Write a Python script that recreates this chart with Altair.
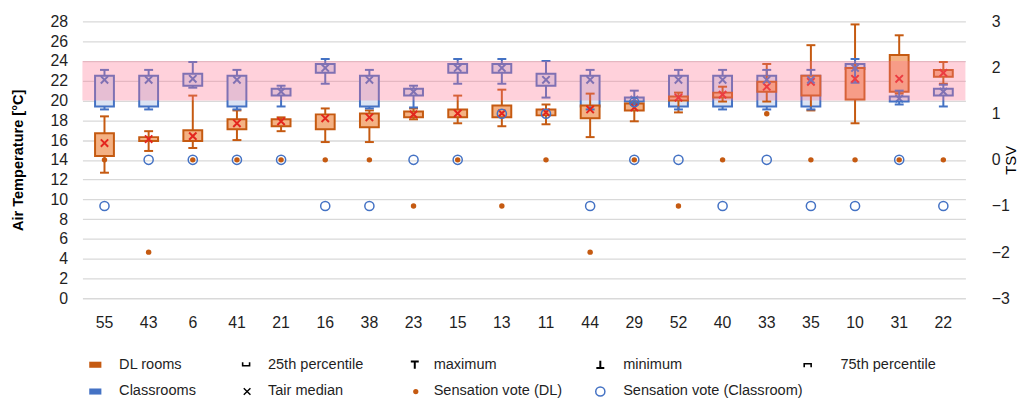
import altair as alt
import pandas as pd

# ---------------- data ----------------
rooms = ["55", "43", "6", "41", "21", "16", "38", "23", "15", "13",
         "11", "44", "29", "52", "40", "33", "35", "10", "31", "22"]

# DL rooms: air temperature box statistics [°C]
dl_min = [12.7, 14.9, 15.2, 16.0, 16.9, 15.8, 15.8, 18.1, 17.7, 17.4,
          17.6, 16.3, 17.9, 18.8, 19.9, 19.9, 19.0, 17.7, 20.7, 21.7]
dl_q1 = [14.4, 15.9, 15.9, 17.1, 17.4, 17.1, 17.3, 18.3, 18.3, 18.3,
         18.5, 18.2, 19.0, 20.0, 20.3, 20.9, 20.5, 20.1, 20.9, 22.4]
dl_q3 = [16.7, 16.3, 17.0, 18.1, 18.1, 18.6, 18.7, 18.9, 19.1, 19.5,
         19.1, 19.5, 19.7, 20.4, 20.8, 21.9, 22.5, 23.3, 24.6, 23.1]
dl_max = [18.4, 16.9, 20.5, 19.0, 18.3, 19.2, 19.0, 19.2, 20.5, 21.1,
          19.6, 20.7, 19.9, 20.8, 21.4, 23.7, 25.6, 27.7, 26.6, 23.9]
dl_median = [15.7, 16.1, 16.4, 17.7, 17.9, 18.2, 18.3, 18.6, 18.7, 18.7,
             18.8, 19.1, 19.3, 20.3, 20.6, 21.4, 21.9, 22.2, 22.2, 22.8]

# Classrooms: air temperature box statistics [°C]
cl_min = [19.1, 19.1, 21.3, 19.1, 19.4, 21.7, 19.2, 19.3, 21.7, 21.7,
          20.3, 19.1, 19.6, 19.1, 19.1, 19.1, 19.1, 21.8, 19.6, 19.4]
cl_q1 = [19.4, 19.4, 21.5, 19.4, 20.5, 22.8, 19.4, 20.5, 22.8, 22.8,
         21.5, 19.4, 19.9, 19.4, 19.4, 19.4, 19.4, 23.2, 19.9, 20.5]
cl_q3 = [22.5, 22.5, 22.7, 22.5, 21.2, 23.7, 22.5, 21.2, 23.7, 23.7,
         22.7, 22.5, 20.3, 22.5, 22.5, 22.5, 22.5, 23.7, 20.4, 21.2]
cl_max = [23.1, 23.1, 23.9, 23.1, 21.5, 24.2, 23.1, 21.5, 24.2, 24.2,
          24.0, 23.1, 21.0, 23.1, 23.1, 23.1, 23.1, 24.2, 21.0, 21.6]
cl_median = [22.1, 22.1, 22.2, 22.1, 20.9, 23.3, 22.1, 20.9, 23.3, 23.3,
             22.1, 22.1, 20.1, 22.1, 22.1, 22.1, 22.1, 23.3, 20.2, 20.9]

# Thermal sensation votes (TSV)
dl_vote_rooms = rooms
dl_votes = [0, -2, 0, 0, 0, 0, 0, -1, 0, -1,
            0, -2, 0, -1, 0, 1, 0, 0, 0, 0]
cl_vote_rooms = rooms + ["29"]
cl_votes = [-1, 0, 0, 0, 0, -1, -1, 0, 0, 1,
            1, -1, 0, 0, -1, 0, -1, -1, 0, -1, 1.25]

comfort_band = [20, 24]

# ---------------- styling ----------------
ORANGE = "#c55a11"
ORANGE_FILL = "#f4b183"
BLUE = "#4472c4"
BLUE_FILL = "#dae3f3"
RED = "#e3261e"
PINK = "#ff6f8f"
FONT = "Liberation Sans"
TXT = "#1f1f1f"
W, H = 890, 279
X_PATH = "M-1,-1L1,1M-1,1L1,-1"

dl = pd.DataFrame({"room": rooms, "min": dl_min, "q1": dl_q1, "q3": dl_q3,
                   "max": dl_max, "median": dl_median})
cl = pd.DataFrame({"room": rooms, "min": cl_min, "q1": cl_q1, "q3": cl_q3,
                   "max": cl_max, "median": cl_median})
dlv = pd.DataFrame({"room": dl_vote_rooms, "tsv": dl_votes})
clv = pd.DataFrame({"room": cl_vote_rooms, "tsv": cl_votes})
band = pd.DataFrame({"lo": [comfort_band[0]], "hi": [comfort_band[1]]})

x_enc = alt.X("room:N", sort=rooms,
              scale=alt.Scale(type="band", paddingInner=0, paddingOuter=0),
              axis=alt.Axis(title=None, labelAngle=0, ticks=False, domain=False,
                            labelPadding=16, labelFontSize=16, labelFont=FONT,
                            labelColor=TXT, grid=False))

t_axis = alt.Axis(values=list(range(0, 29, 2)), title="Air Temperature [°C]",
                  titleFont=FONT, titleFontSize=14.67, titleFontWeight="bold",
                  titleColor="#000000", titlePadding=25, labelFont=FONT,
                  labelFontSize=16, labelColor=TXT, labelPadding=15,
                  ticks=False, tickSize=0, domain=False, grid=True,
                  gridColor="#d9d9d9", gridWidth=1.3)
t_scale = alt.Scale(domain=[0, 28], nice=False, zero=False)


def ty(field):
    return alt.Y(f"{field}:Q", scale=t_scale, axis=t_axis)


def boxes(df, stroke, fill):
    return alt.Chart(df).mark_bar(size=19, stroke=stroke, strokeWidth=2,
                                  fill=fill, opacity=1).encode(
        x=x_enc, y=ty("q1"), y2="q3")


def whiskers(df, color):
    lo = alt.Chart(df).mark_rule(color=color, strokeWidth=2).encode(
        x=x_enc, y=ty("min"), y2="q1")
    hi = alt.Chart(df).mark_rule(color=color, strokeWidth=2).encode(
        x=x_enc, y=ty("q3"), y2="max")
    cap_lo = alt.Chart(df).mark_tick(color=color, size=9, thickness=2,
                                     opacity=1).encode(x=x_enc, y=ty("min"))
    cap_hi = alt.Chart(df).mark_tick(color=color, size=9, thickness=2,
                                     opacity=1).encode(x=x_enc, y=ty("max"))
    return [lo, hi, cap_lo, cap_hi]


def medians(df, color):
    return alt.Chart(df).mark_point(shape=X_PATH, size=55, strokeWidth=2,
                                    filled=False, color=color, opacity=1).encode(
        x=x_enc, y=ty("median"))


band_layer = alt.Chart(band).mark_rect(color=PINK, opacity=0.32).encode(
    y=ty("lo"), y2="hi")

# ---- legend (drawn below the plot) ----
legend_items = [
    # (label, glyph, glyph_x, text_x, row_y)
    ("DL rooms", "dl_swatch", 96, 120, 366),
    ("25th percentile", "p25", 248, 270, 366),
    ("maximum", "max", 418, 437, 366),
    ("minimum", "min", 605, 628, 366),
    ("75th percentile", "p75", 814, 847, 366),
    ("Classrooms", "cl_swatch", 96, 120, 393),
    ("Tair median", "xmark", 249, 270, 393),
    ("Sensation vote (DL)", "dl_dot", 419, 437, 393),
    ("Sensation vote (Classroom)", "cl_circle", 605, 628, 393),
]
OX, OY = 83, 20
glyph_style = {
    "dl_swatch": dict(shape="M-1,-0.5H1V0.5H-1Z", size=150, filled=True, color=ORANGE),
    "cl_swatch": dict(shape="M-1,-0.5H1V0.5H-1Z", size=150, filled=True, color=BLUE),
    "p25": dict(shape="M-1,-0.7V0.3H1V-0.7", size=49, filled=False, color="#000", strokeWidth=1.6),
    "p75": dict(shape="M-1,0.7V-0.3H1V0.7", size=49, filled=False, color="#000", strokeWidth=1.6),
    "max": dict(shape="M-1,-0.8H1M0,-0.8V1", size=64, filled=False, color="#000", strokeWidth=2),
    "min": dict(shape="M-1,0.8H1M0,0.8V-1", size=64, filled=False, color="#000", strokeWidth=2),
    "xmark": dict(shape=X_PATH, size=45, filled=False, color="#000", strokeWidth=1.4),
    "dl_dot": dict(shape="circle", size=28, filled=True, color=ORANGE),
    "cl_circle": dict(shape="circle", size=85, filled=False, color=BLUE, strokeWidth=1.5),
}
legend_layers = []
for label, glyph, gx, tx, ry in legend_items:
    st = dict(glyph_style[glyph])
    st.setdefault("opacity", 1)
    legend_layers.append(
        alt.Chart(band).mark_point(**st).encode(
            x=alt.value(gx - OX), y=alt.value(ry - OY)))
    legend_layers.append(
        alt.Chart(band).mark_text(text=label, align="left", baseline="middle",
                                  font=FONT, fontSize=14.67, color=TXT).encode(
            x=alt.value(tx - OX), y=alt.value(ry - OY)))

left = alt.layer(
    boxes(cl, BLUE, BLUE_FILL),
    boxes(dl, ORANGE, ORANGE_FILL),
    *whiskers(dl, ORANGE),
    *whiskers(cl, BLUE),
    medians(dl, RED),
    medians(cl, BLUE),
    band_layer,
    *legend_layers,
)

v_axis = alt.Axis(orient="right", values=[-3, -2, -1, 0, 1, 2, 3], title="TSV",
                  titleFont=FONT, titleFontSize=15, titleFontWeight="normal",
                  titleColor="#000000", titleAngle=270, titlePadding=9,
                  labelFont=FONT, labelFontSize=16, labelColor=TXT,
                  labelPadding=26, ticks=False, tickSize=0, domain=False,
                  grid=False)
v_scale = alt.Scale(domain=[-3, 3], nice=False, zero=False)

right = alt.layer(
    alt.Chart(dlv).mark_circle(size=30, color=ORANGE, opacity=1).encode(
        x=x_enc, y=alt.Y("tsv:Q", scale=v_scale, axis=v_axis)),
    alt.Chart(clv).mark_point(shape="circle", size=85, strokeWidth=1.5,
                              color=BLUE, filled=False, opacity=1).encode(
        x=x_enc, y=alt.Y("tsv:Q", scale=v_scale, axis=v_axis)),
)

chart = alt.layer(left, right).resolve_scale(y="independent").properties(
    width=W, height=H,
    autosize=alt.AutoSizeParams(type="none"),
    padding={"left": 75, "top": 12, "right": 54, "bottom": 103},
    background="white",
).configure_view(stroke=None)

chart.save("out.html", embed_options={"renderer": "svg", "actions": False})
